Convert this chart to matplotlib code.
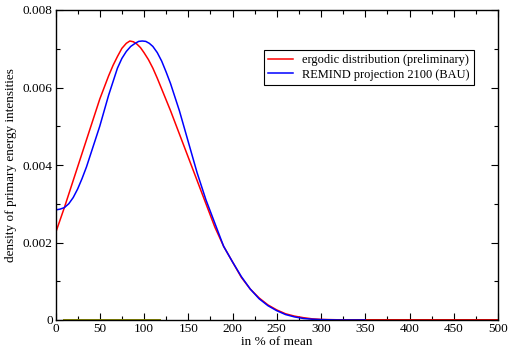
import numpy as np
import matplotlib
matplotlib.use("Agg")
import matplotlib.pyplot as plt
from matplotlib.ticker import MultipleLocator, FuncFormatter

# =========================
# DATA
# =========================
red_x = [0, 10, 20, 30, 40, 50, 60, 65, 70, 75, 80, 84, 88, 92, 96, 100, 105, 110,
         115, 120, 130, 140, 150, 160, 170, 180, 190, 200, 210, 220, 230, 240, 250,
         260, 270, 280, 290, 300, 320, 350, 400, 450, 500]
red_y = [0.00224, 0.0029, 0.0036, 0.0043, 0.0050, 0.0057, 0.0063, 0.00657, 0.0068,
         0.00701, 0.00714, 0.0072, 0.00718, 0.00712, 0.00703, 0.0069, 0.00672, 0.0065,
         0.00624, 0.00596, 0.0054, 0.0048, 0.0042, 0.0036, 0.0030, 0.0024, 0.0019,
         0.0015, 0.0011, 0.0008, 0.00057, 0.00039, 0.00026, 0.00016, 0.00010,
         0.00006, 0.00003, 0.000015, 0.000005, 0, 0, 0, 0]

blue_x = [0, 5, 10, 15, 20, 25, 30, 35, 40, 50, 60, 70, 75, 80, 85, 90, 94, 98, 102,
          106, 110, 115, 120, 125, 130, 140, 150, 160, 170, 180, 190, 200, 210, 220,
          230, 240, 250, 260, 270, 280, 290, 300, 320, 350]
blue_y = [0.00284, 0.00286, 0.0029, 0.00300, 0.00316, 0.00338, 0.00365, 0.00395,
          0.0043, 0.0050, 0.0058, 0.0065, 0.00675, 0.00693, 0.00706, 0.00714,
          0.00719, 0.0072, 0.00719, 0.00714, 0.00706, 0.00690, 0.00668, 0.0064,
          0.0061, 0.0054, 0.0046, 0.0038, 0.0031, 0.0025, 0.0019, 0.0015, 0.00112,
          0.0008, 0.00055, 0.00037, 0.00024, 0.00014, 0.00008, 0.00004, 0.00002,
          0.00001, 0, 0]

# baseline pieces lying on zero
olive_x = [10, 118]
olive_y = [0, 0]
dred_x = [313, 500]
dred_y = [0, 0]

labels = ["ergodic distribution (preliminary)", "REMIND projection 2100 (BAU)"]

# =========================
# PLOT
# =========================
plt.rcParams['font.family'] = ['Liberation Serif', 'DejaVu Serif']

fig = plt.figure(figsize=(5.08, 3.48), dpi=100)
ax = fig.add_axes([55.5 / 508, 28 / 348, 442.5 / 508, 310 / 348])

ax.plot(olive_x, olive_y, color="#8b8b00", lw=1.4)
ax.plot(dred_x, dred_y, color="#8b1a1a", lw=1.4)
ax.plot(red_x, red_y, color="red", lw=1.1, label=labels[0])
ax.plot(blue_x, blue_y, color="blue", lw=1.1, label=labels[1])

ax.set_xlim(0, 500)
ax.set_ylim(0, 0.008)
ax.xaxis.set_major_locator(MultipleLocator(50))
ax.xaxis.set_minor_locator(MultipleLocator(25))
ax.yaxis.set_major_locator(MultipleLocator(0.002))
ax.yaxis.set_minor_locator(MultipleLocator(0.001))
ax.yaxis.set_major_formatter(FuncFormatter(lambda v, p: "0" if v == 0 else f"{v:.3f}"))

ax.tick_params(which="both", direction="in", top=True, right=True, labelsize=9.5, pad=2)
ax.tick_params(which="major", length=5, width=0.8)
ax.tick_params(which="minor", length=3, width=0.8)
for s in ax.spines.values():
    s.set_linewidth(1.0)

ax.set_xlabel("in % of mean", fontsize=9.5, labelpad=1)
ax.set_ylabel("density of primary energy intensities", fontsize=9.5, labelpad=4)

leg = ax.legend(loc="upper left", bbox_to_anchor=(208 / 442.5, 1 - 40 / 310),
                fontsize=8.9, fancybox=False, framealpha=1, edgecolor="black",
                handlelength=2.0, handletextpad=0.8, borderpad=0.35,
                labelspacing=0.2, borderaxespad=0)
leg.get_frame().set_linewidth(0.8)

fig.savefig("out.png", dpi=100)
plt.close()
